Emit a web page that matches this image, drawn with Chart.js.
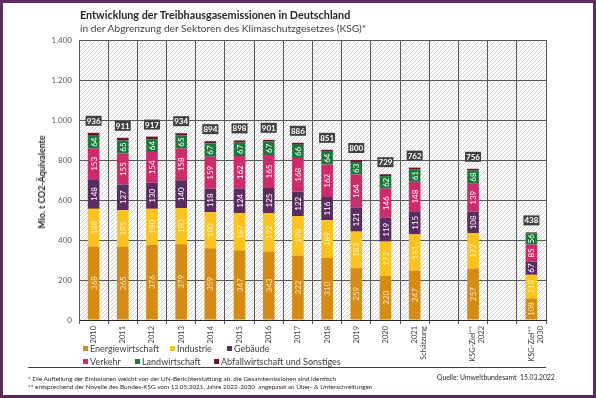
<!DOCTYPE html>
<html>
<head>
<meta charset="utf-8">
<script src="https://cdn.jsdelivr.net/npm/chart.js@4.4.1/dist/chart.umd.min.js"></script>
<style>
  body { margin: 0; background: #fff; }
  #wrap { position: relative; width: 596px; height: 398px; overflow: hidden; font-family: Lato, "Open Sans", sans-serif; color: #404040; }
  #frame { position: absolute; left: 0; top: 0; width: 596px; height: 398px; box-sizing: border-box; border: 3px solid #5c2d5c; pointer-events: none; }
  .t { position: absolute; white-space: nowrap; line-height: 12px; }
  .fn { position: absolute; white-space: nowrap; line-height: 8px; font-size: 6.4px; color: #262626; }
  .lg { position: absolute; white-space: nowrap; font-size: 9px; line-height: 12px; }
  .lg i { display: inline-block; width: 5px; height: 5px; margin-right: 2px; vertical-align: 1px; }
  #line { position: absolute; left: 28px; top: 367px; width: 518px; height: 1px; background: #404040; }
</style>
</head>
<body>
<div id="wrap">
  <canvas id="myChart" width="596" height="398"></canvas>
  <div class="t" style="left:80px;top:9px;font-size:10.8px;font-weight:bold;color:#262626;">Entwicklung der Treibhausgasemissionen in Deutschland</div>
  <div class="t" style="left:80px;top:22px;font-size:10.2px;">in der Abgrenzung der Sektoren des Klimaschutzgesetzes (KSG)*</div>
  <div class="t" style="left:42px;top:182px;font-size:8.8px;font-weight:bold;color:#262626;transform:translate(-50%,-50%) rotate(-90deg);">Mio. t CO2-Äquivalente</div>
  <div id="legend"></div>
  <div id="line"></div>
  <div class="fn" style="left:28px;top:375px;">* Die Aufteilung der Emissionen weicht von der UN-Berichterstattung ab, die Gesamtemissionen sind identisch</div>
  <div class="fn" style="left:28px;top:383px;">** entsprechend der Novelle des Bundes-KSG vom 12.05.2021, Jahre 2022-2030&nbsp; angepasst an Über- &amp; Unterschreitungen</div>
  <div class="fn" style="left:437px;top:373px;font-size:6.8px;">Quelle: Umweltbundesamt&nbsp; 15.03.2022</div>
  <div id="frame"></div>
</div>
<script>
const categories = ['2010', '2011', '2012', '2013', '2014', '2015', '2016', '2017', '2018', '2019', '2020',
  ['2021', 'Schätzung'], '', ['KSG-Ziel**', '2022'], '', ['KSG-Ziel**', '2030']];

const energie = [368, 365, 376, 379, 359, 347, 343, 322, 310, 259, 220, 247, null, 257, null, 108];
const industrie = [188, 185, 180, 180, 180, 187, 192, 198, 189, 183, 172, 181, null, 177, null, 118];
const gebaeude = [148, 127, 130, 140, 118, 124, 125, 122, 116, 121, 119, 115, null, 108, null, 67];
const verkehr = [153, 155, 154, 158, 159, 162, 165, 168, 162, 164, 146, 148, null, 139, null, 85];
const landwirtschaft = [64, 65, 64, 65, 67, 67, 67, 66, 64, 63, 62, 61, null, 68, null, 56];
const abfall = [15, 14, 13, 12, 11, 11, 9, 10, 10, 10, 10, 10, null, 7, null, 4];
const totals = [936, 911, 917, 934, 894, 898, 901, 886, 851, 800, 729, 762, null, 756, null, 438];

const yTicks = [0, 200, 400, 600, 800, 1000, 1200, 1400];

const FONT = 'Lato, "Open Sans", sans-serif';

const series = [
  { label: 'Energiewirtschaft', data: energie, color: '#d68c10', text: '#fbe6c0' },
  { label: 'Industrie', data: industrie, color: '#fbc31c', text: '#fff2c8' },
  { label: 'Gebäude', data: gebaeude, color: '#5b2c5f', text: '#ffffff' },
  { label: 'Verkehr', data: verkehr, color: '#cf2a6b', text: '#ffffff' },
  { label: 'Landwirtschaft', data: landwirtschaft, color: '#1b7a3a', text: '#ffffff' },
  { label: 'Abfallwirtschaft und Sonstiges', data: abfall, color: '#6e1430', text: null }
];

// legend in two rows like the original
const legendPos = [[83, 343], [170, 343], [227, 343], [83, 356], [135, 356], [214, 356]];
const legendEl = document.getElementById('legend');
series.forEach((s, i) => {
  const d = document.createElement('div');
  d.className = 'lg';
  d.style.left = legendPos[i][0] + 'px';
  d.style.top = legendPos[i][1] + 'px';
  d.innerHTML = `<i style="background:${s.color}"></i>${s.label}`;
  legendEl.appendChild(d);
});

// diagonal hatch for the plot background
function makeHatch() {
  const c = document.createElement('canvas');
  c.width = 4; c.height = 4;
  const g = c.getContext('2d');
  g.fillStyle = '#ffffff';
  g.fillRect(0, 0, 4, 4);
  g.strokeStyle = '#c4c4c4';
  g.lineWidth = 0.8;
  g.beginPath();
  g.moveTo(0, 4); g.lineTo(4, 0);
  g.moveTo(-1, 1); g.lineTo(1, -1);
  g.moveTo(3, 5); g.lineTo(5, 3);
  g.stroke();
  return g.createPattern(c, 'repeat');
}

const hatchPlugin = {
  id: 'hatch',
  beforeDraw(chart) {
    const a = chart.chartArea;
    const ctx = chart.ctx;
    ctx.save();
    ctx.fillStyle = makeHatch();
    ctx.fillRect(a.left, a.top, a.right - a.left, a.bottom - a.top);
    ctx.restore();
  }
};

const labelPlugin = {
  id: 'segLabels',
  afterDatasetsDraw(chart) {
    const ctx = chart.ctx;
    ctx.save();
    ctx.font = '8px ' + FONT;
    ctx.textAlign = 'center';
    ctx.textBaseline = 'middle';
    series.forEach((s, di) => {
      if (!s.text) return;
      const meta = chart.getDatasetMeta(di);
      meta.data.forEach((bar, i) => {
        if (s.data[i] == null) return;
        const cy = (bar.y + bar.base) / 2;
        ctx.save();
        ctx.translate(bar.x, cy);
        ctx.rotate(-Math.PI / 2);
        ctx.fillStyle = s.text;
        ctx.fillText(String(s.data[i]), 0, 0.5);
        ctx.restore();
      });
    });
    // totals in dark boxes
    const topMeta = chart.getDatasetMeta(series.length - 1);
    ctx.font = 'bold 8px ' + FONT;
    topMeta.data.forEach((bar, i) => {
      if (totals[i] == null) return;
      const cy = bar.y - 12;
      ctx.fillStyle = '#404040';
      ctx.fillRect(bar.x - 8, cy - 5, 16, 10);
      ctx.fillStyle = '#ffffff';
      ctx.fillText(String(totals[i]), bar.x, cy + 0.5);
    });
    ctx.restore();
  }
};

new Chart(document.getElementById('myChart'), {
  type: 'bar',
  data: {
    labels: categories,
    datasets: series.map(s => ({
      label: s.label,
      data: s.data,
      backgroundColor: s.color,
      barPercentage: 0.4,
      categoryPercentage: 1
    }))
  },
  options: {
    responsive: false,
    animation: false,
    layout: { padding: { left: 0, right: 50, top: 40, bottom: 0 } },
    plugins: { legend: { display: false }, tooltip: { enabled: false } },
    scales: {
      x: {
        stacked: true,
        afterFit(scale) { scale.height = 78; },
        grid: { offset: true, color: '#595959', lineWidth: 1, tickLength: 4 },
        border: { color: '#262626' },
        ticks: {
          autoSkip: false, maxRotation: 90, minRotation: 90, padding: 2,
          color: '#404040',
          font: { size: 7.5, family: FONT }
        }
      },
      y: {
        stacked: true,
        min: 0, max: 1400,
        afterFit(scale) { scale.width = 79; },
        afterBuildTicks(scale) { scale.ticks = yTicks.map(v => ({ value: v })); },
        grid: { color: '#595959', lineWidth: 1, drawTicks: false },
        border: { color: '#595959' },
        ticks: {
          padding: 7, color: '#595959',
          font: { size: 8, family: FONT },
          callback: v => v.toLocaleString('de-DE')
        }
      }
    }
  },
  plugins: [hatchPlugin, labelPlugin]
});
</script>
</body>
</html>
